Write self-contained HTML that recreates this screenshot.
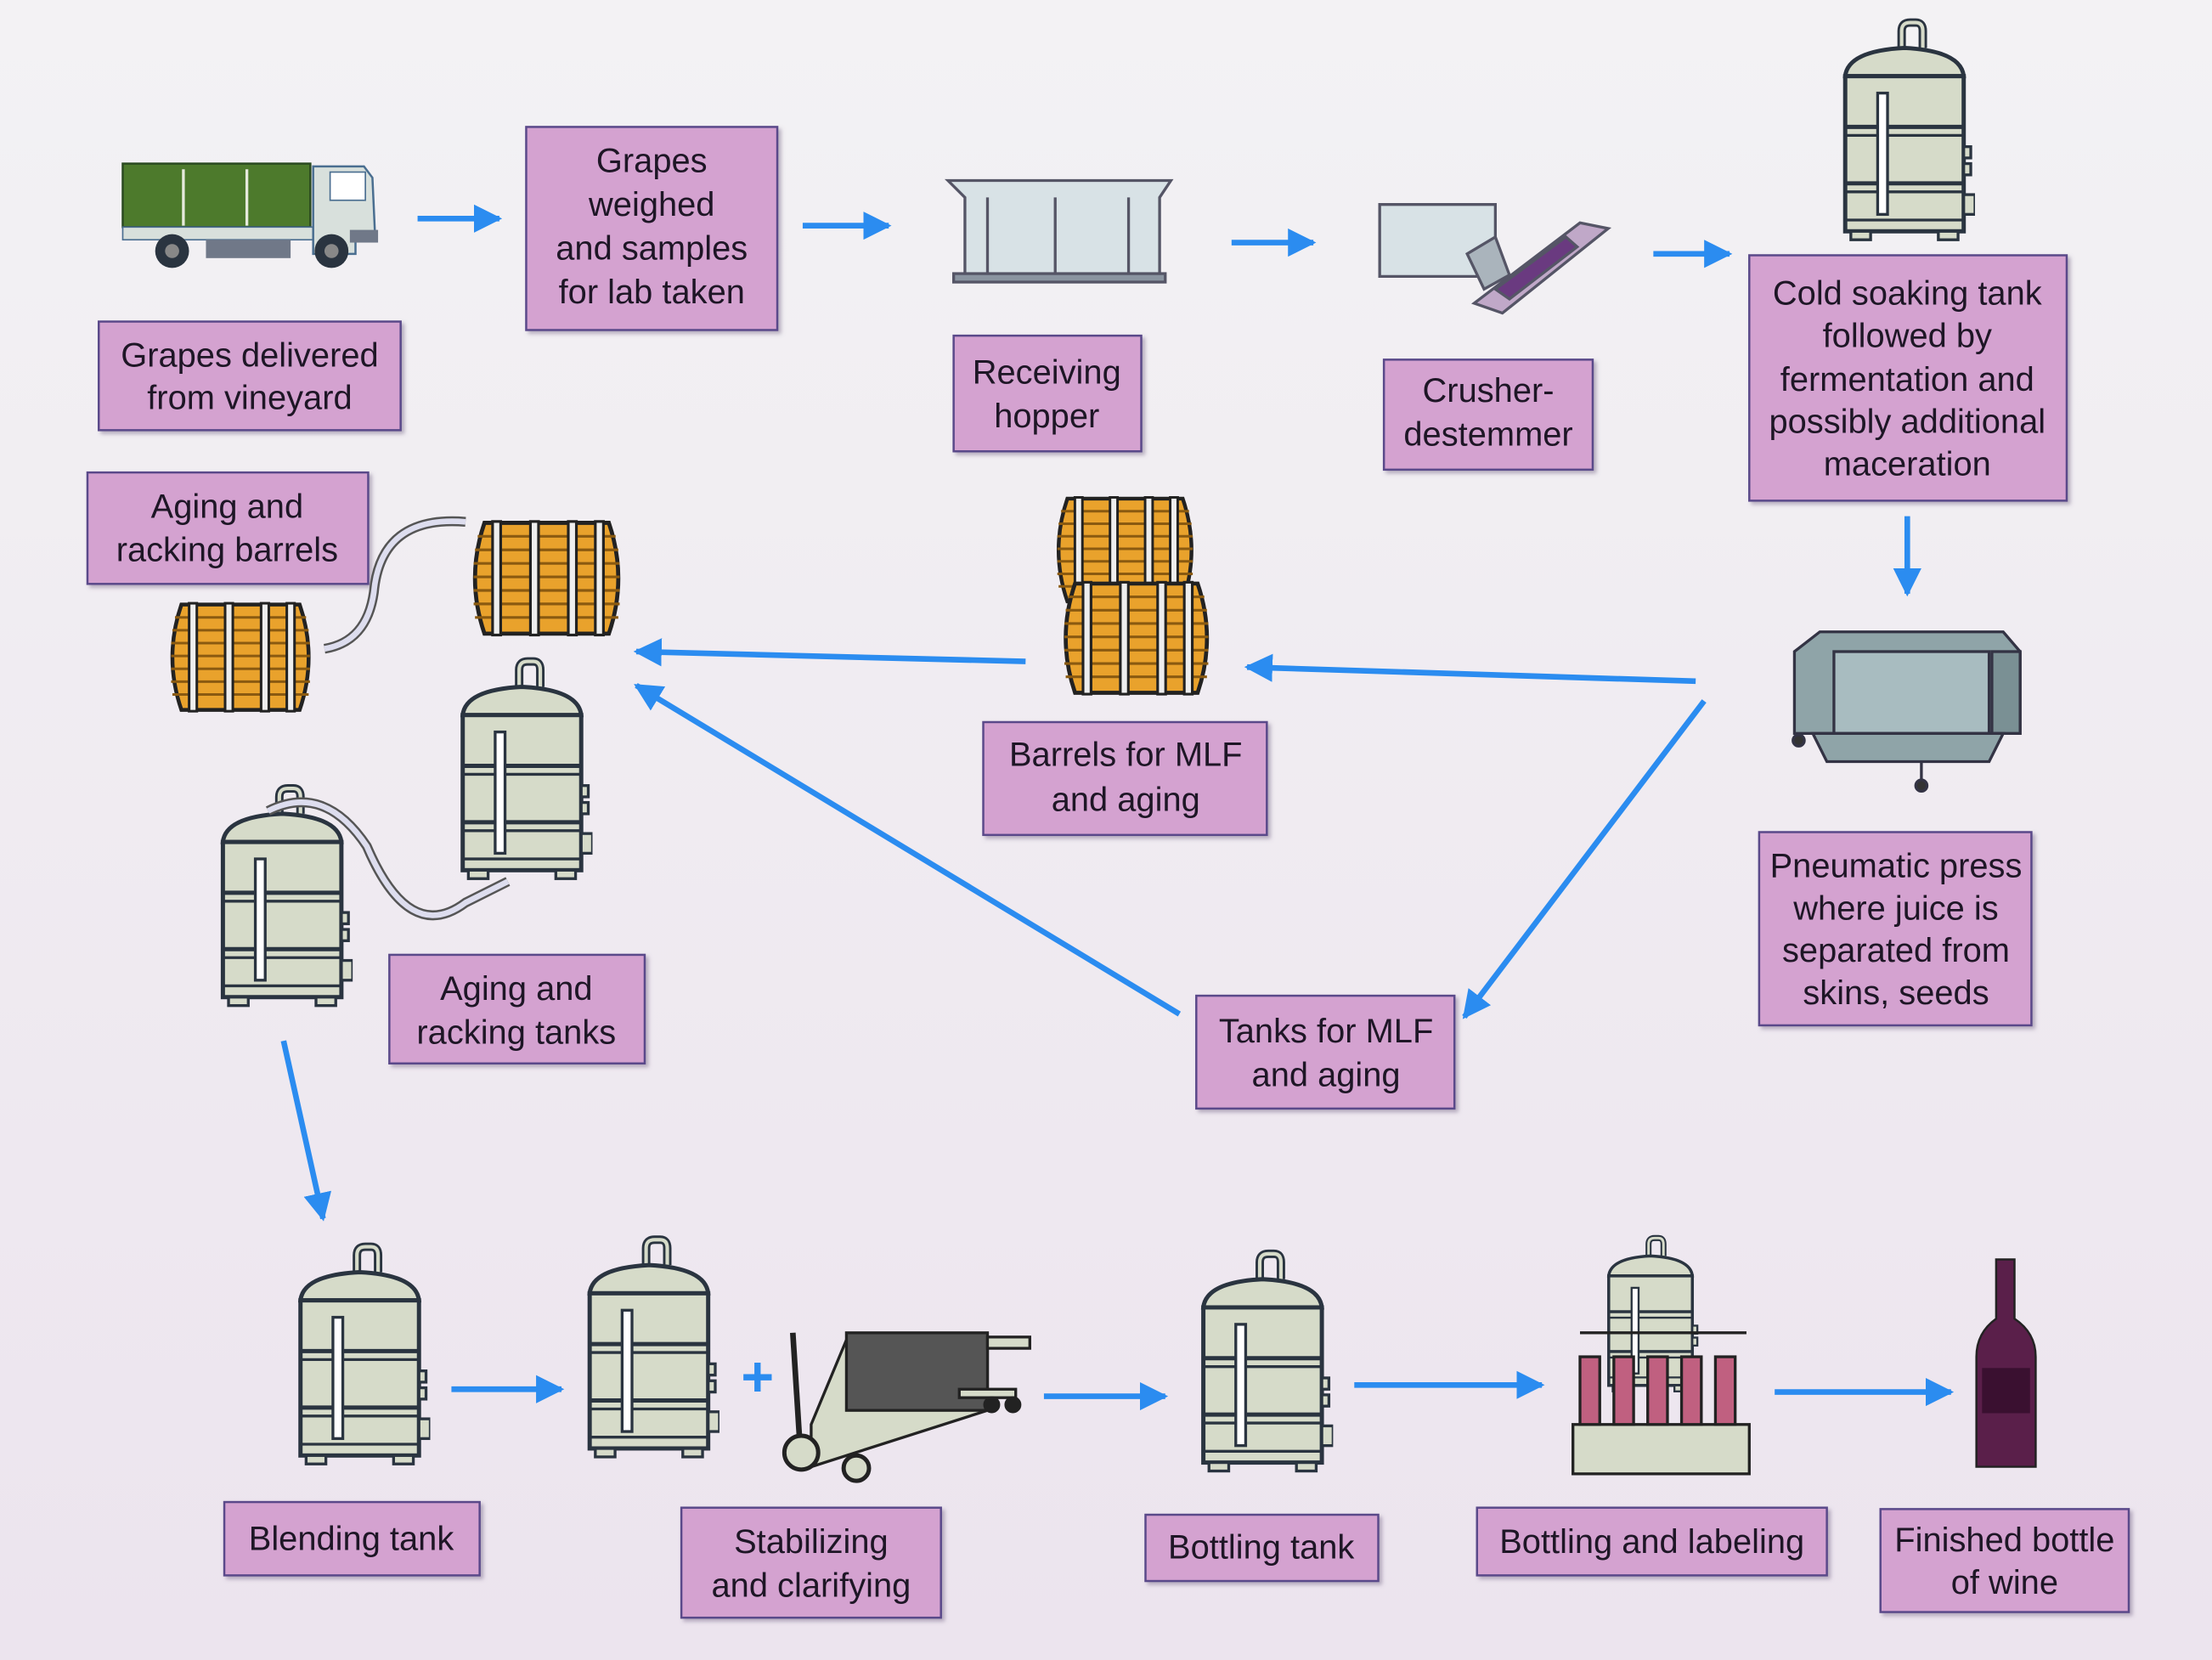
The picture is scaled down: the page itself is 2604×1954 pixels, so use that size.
<!DOCTYPE html>
<html><head><meta charset="utf-8"><style>
html,body{margin:0;padding:0;background:#efeaf1;}
svg{display:block}
text{font-family:"Liberation Sans",sans-serif;font-size:24px;fill:#1e1626;text-anchor:middle;}
</style></head><body>
<svg width="2604" height="1954" viewBox="0 0 1568 1177" preserveAspectRatio="none" xmlns="http://www.w3.org/2000/svg">
<defs>
<linearGradient id="bg" x1="0" y1="0" x2="0" y2="1"><stop offset="0" stop-color="#f3f2f4"/><stop offset="1" stop-color="#ece4ee"/></linearGradient>
<marker id="ah" viewBox="0 0 10 10" refX="9" refY="5" markerWidth="5" markerHeight="5" orient="auto"><path d="M0,0L10,5L0,10z" fill="#2b8cf0"/></marker>
<symbol id="tank" viewBox="0 0 100 170">
<path d="M48,28 V10 Q48,4 54,4 H58 Q63,4 63,10 V22" fill="none" stroke="#2a3440" stroke-width="6"/>
<path d="M48,28 V10 Q48,4 54,4 H58 Q63,4 63,10 V22" fill="none" stroke="#d6dbc9" stroke-width="2.5"/>
<path d="M8,42 Q10,24 50,22 Q90,24 92,42 Z" fill="#d6dbc9" stroke="#2a3440" stroke-width="3"/>
<rect x="8" y="42" width="84" height="110" fill="#d6dbc9" stroke="#2a3440" stroke-width="3"/>
<line x1="8" y1="78" x2="92" y2="78" stroke="#2a3440" stroke-width="3"/><line x1="8" y1="84" x2="92" y2="84" stroke="#2a3440" stroke-width="2"/>
<line x1="8" y1="118" x2="92" y2="118" stroke="#2a3440" stroke-width="3"/><line x1="8" y1="124" x2="92" y2="124" stroke="#2a3440" stroke-width="2"/>
<line x1="8" y1="144" x2="92" y2="144" stroke="#2a3440" stroke-width="2"/>
<rect x="31" y="54" width="7" height="86" fill="#fff" stroke="#2a3440" stroke-width="2"/>
<rect x="92" y="92" width="5" height="8" fill="#d6dbc9" stroke="#2a3440" stroke-width="2"/><rect x="92" y="104" width="5" height="8" fill="#d6dbc9" stroke="#2a3440" stroke-width="2"/>
<rect x="92" y="126" width="8" height="14" fill="#d6dbc9" stroke="#2a3440" stroke-width="2"/>
<rect x="12" y="152" width="14" height="6" fill="#d6dbc9" stroke="#2a3440" stroke-width="2"/><rect x="74" y="152" width="14" height="6" fill="#d6dbc9" stroke="#2a3440" stroke-width="2"/>
</symbol>
<symbol id="barrel" viewBox="0 0 120 90">
<path d="M14,4 Q0,45 14,86 H106 Q120,45 106,4 Z" fill="#e9a22c" stroke="#222" stroke-width="3"/>
<g stroke="#8a5a10" stroke-width="2">
<line x1="9" y1="14" x2="111" y2="14"/><line x1="7" y1="24" x2="113" y2="24"/><line x1="6" y1="34" x2="114" y2="34"/><line x1="6" y1="44" x2="114" y2="44"/><line x1="6" y1="54" x2="114" y2="54"/><line x1="6" y1="64" x2="114" y2="64"/><line x1="7" y1="74" x2="113" y2="74"/></g>
<g fill="#eee" stroke="#222" stroke-width="2"><rect x="20" y="3" width="6" height="84"/><rect x="48" y="3" width="6" height="84"/><rect x="76" y="3" width="6" height="84"/><rect x="96" y="3" width="6" height="84"/></g>
</symbol>
<filter id="sh"><feDropShadow dx="2" dy="2" stdDeviation="1.5" flood-color="#7a6a8a" flood-opacity="0.5"/></filter>
</defs>
<rect width="1568" height="1177" fill="url(#bg)"/>

<g fill="#d4a2d0" stroke="#5a4a8a" stroke-width="1.5" filter="url(#sh)">
<rect x="70" y="228" width="214" height="77"/>
<rect x="373" y="90" width="178" height="144"/>
<rect x="676" y="238" width="133" height="82"/>
<rect x="981" y="255" width="148" height="78"/>
<rect x="1240" y="181" width="225" height="174"/>
<rect x="62" y="335" width="199" height="79"/>
<rect x="697" y="512" width="201" height="80"/>
<rect x="1247" y="590" width="193" height="137"/>
<rect x="276" y="677" width="181" height="77"/>
<rect x="848" y="706" width="183" height="80"/>
<rect x="159" y="1065" width="181" height="52"/>
<rect x="483" y="1069" width="184" height="78"/>
<rect x="812" y="1074" width="165" height="47"/>
<rect x="1047" y="1069" width="248" height="48"/>
<rect x="1333" y="1070" width="176" height="73"/>
</g>
<g>
<text x="177" y="260">Grapes delivered</text><text x="177" y="290">from vineyard</text>
<text x="462" y="122">Grapes</text><text x="462" y="153">weighed</text><text x="462" y="184">and samples</text><text x="462" y="215">for lab taken</text>
<text x="742" y="272">Receiving</text><text x="742" y="303">hopper</text>
<text x="1055" y="285">Crusher-</text><text x="1055" y="316">destemmer</text>
<text x="1352" y="216">Cold soaking tank</text><text x="1352" y="246">followed by</text><text x="1352" y="277">fermentation and</text><text x="1352" y="307">possibly additional</text><text x="1352" y="337">maceration</text>
<text x="161" y="367">Aging and</text><text x="161" y="398">racking barrels</text>
<text x="798" y="543">Barrels for MLF</text><text x="798" y="575">and aging</text>
<text x="1344" y="622">Pneumatic press</text><text x="1344" y="652">where juice is</text><text x="1344" y="682">separated from</text><text x="1344" y="712">skins, seeds</text>
<text x="366" y="709">Aging and</text><text x="366" y="740">racking tanks</text>
<text x="940" y="739">Tanks for MLF</text><text x="940" y="770">and aging</text>
<text x="249" y="1099">Blending tank</text>
<text x="575" y="1101">Stabilizing</text><text x="575" y="1132">and clarifying</text>
<text x="894" y="1105">Bottling tank</text>
<text x="1171" y="1101">Bottling and labeling</text>
<text x="1421" y="1100">Finished bottle</text><text x="1421" y="1130">of wine</text>
</g>

<g stroke="#2b8cf0" stroke-width="4" fill="none" marker-end="url(#ah)">
<line x1="296" y1="155" x2="354" y2="155"/>
<line x1="569" y1="160" x2="630" y2="160"/>
<line x1="873" y1="172" x2="931" y2="172"/>
<line x1="1172" y1="180" x2="1226" y2="180"/>
<line x1="1352" y1="366" x2="1352" y2="421"/>
<line x1="1202" y1="483" x2="884" y2="473"/>
<line x1="727" y1="469" x2="451" y2="462"/>
<line x1="1208" y1="497" x2="1038" y2="721"/>
<line x1="836" y1="719" x2="451" y2="486"/>
<line x1="201" y1="738" x2="229" y2="864"/>
<line x1="320" y1="985" x2="398" y2="985"/>
<line x1="740" y1="990" x2="826" y2="990"/>
<line x1="960" y1="982" x2="1093" y2="982"/>
<line x1="1258" y1="987" x2="1383" y2="987"/>
</g>
<text x="537" y="990" style="font-size:40px;fill:#2b8cf0;font-weight:bold">+</text>

<!-- truck -->
<g>
<rect x="87" y="116" width="133" height="45" fill="#4d7a2c" stroke="#2a4a20" stroke-width="1.5"/>
<line x1="130" y1="120" x2="130" y2="160" stroke="#e6eadc" stroke-width="2"/><line x1="175" y1="120" x2="175" y2="160" stroke="#e6eadc" stroke-width="2"/>
<rect x="87" y="161" width="135" height="9" fill="#d8e0dc" stroke="#4a6e90" stroke-width="1"/>
<path d="M222,118 H258 L264,126 L266,170 H252 V180 H222 Z" fill="#d8e0dc" stroke="#4a6e90" stroke-width="1.5"/>
<rect x="234" y="122" width="25" height="20" fill="#fff" stroke="#4a6e90" stroke-width="1"/>
<rect x="248" y="163" width="20" height="9" fill="#707888"/>
<rect x="146" y="170" width="60" height="13" fill="#707888"/>
<circle cx="122" cy="178" r="12" fill="#2a3440"/><circle cx="122" cy="178" r="5" fill="#888"/>
<circle cx="235" cy="178" r="12" fill="#2a3440"/><circle cx="235" cy="178" r="5" fill="#888"/>
</g>
<!-- hopper -->
<g stroke="#556" stroke-width="2" fill="#d8e2e6">
<path d="M672,128 H830 L822,140 V196 H684 V140 Z"/>
<line x1="700" y1="140" x2="700" y2="196"/><line x1="748" y1="140" x2="748" y2="196"/><line x1="800" y1="140" x2="800" y2="196"/>
<rect x="676" y="194" width="150" height="6" fill="#8a94a0"/>
</g>
<!-- crusher -->
<g stroke="#556" stroke-width="2">
<path d="M978,145 H1060 V196 H978 Z" fill="#d8e2e6"/>
<path d="M1040,180 L1060,168 L1070,195 L1052,205 Z" fill="#aab4bc"/>
<path d="M1045,215 L1120,158 L1140,162 L1065,222 Z" fill="#c0a8c8"/>
<path d="M1060,205 L1110,168 L1118,175 L1070,212 Z" fill="#6a3a80"/>
</g>
<!-- tanks -->
<use href="#tank" x="1300" y="12" width="100" height="170"/>
<use href="#tank" x="320" y="465" width="100" height="170"/>
<use href="#tank" x="150" y="555" width="100" height="170"/>
<use href="#tank" x="205" y="880" width="100" height="170"/>
<use href="#tank" x="410" y="875" width="100" height="170"/>
<use href="#tank" x="845" y="885" width="100" height="170"/>
<path d="M230,460 Q260,455 265,420 Q270,365 330,370" fill="none" stroke="#555" stroke-width="7"/>
<path d="M230,460 Q260,455 265,420 Q270,365 330,370" fill="none" stroke="#dde" stroke-width="4"/>
<path d="M190,575 Q230,555 260,600 Q290,670 330,640 L360,625" fill="none" stroke="#555" stroke-width="7"/>
<path d="M190,575 Q230,555 260,600 Q290,670 330,640 L360,625" fill="none" stroke="#dde" stroke-width="4"/>
<!-- barrels -->
<use href="#barrel" x="330" y="365" width="115" height="90"/>
<use href="#barrel" x="113" y="425" width="115" height="82"/>
<use href="#barrel" x="740" y="350" width="115" height="80"/>
<use href="#barrel" x="748" y="410" width="115" height="85"/>
<!-- press -->
<g stroke="#334" stroke-width="2">
<path d="M1272,462 L1290,448 H1420 L1432,462 V520 H1272 Z" fill="#8fa4a8"/>
<rect x="1300" y="462" width="110" height="58" fill="#a8bcc0"/>
<rect x="1412" y="462" width="20" height="58" fill="#7a9094"/>
<path d="M1285,520 H1420 L1410,540 H1295 Z" fill="#8fa4a8"/>
<line x1="1362" y1="540" x2="1362" y2="555"/><circle cx="1362" cy="557" r="4" fill="#333"/>
<circle cx="1275" cy="525" r="4" fill="#333"/>
</g>
<!-- filter -->
<g stroke="#222" stroke-width="2">
<path d="M575,1010 L600,950 H700 V1000 L575,1040 Z" fill="#d6dbc9"/>
<rect x="600" y="945" width="100" height="55" fill="#555"/>
<line x1="562" y1="945" x2="568" y2="1040" stroke-width="4"/>
<circle cx="568" cy="1030" r="12" fill="#d6dbc9" stroke-width="3"/>
<circle cx="607" cy="1041" r="9" fill="#d6dbc9" stroke-width="3"/>
<rect x="700" y="948" width="30" height="8" fill="#d6dbc9"/>
<rect x="680" y="985" width="40" height="6" fill="#d6dbc9"/>
<circle cx="703" cy="996" r="5" fill="#222"/><circle cx="718" cy="996" r="5" fill="#222"/>
</g>
<!-- bottling machine -->
<use href="#tank" x="1125" y="875" width="90" height="120"/>
<g stroke="#222" stroke-width="2">
<line x1="1120" y1="945" x2="1238" y2="945"/>
<rect x="1115" y="1010" width="125" height="35" fill="#d6dbc9"/>
<g fill="#c06080"><rect x="1120" y="962" width="14" height="48"/><rect x="1144" y="962" width="14" height="48"/><rect x="1168" y="962" width="14" height="48"/><rect x="1192" y="962" width="14" height="48"/><rect x="1216" y="962" width="14" height="48"/></g>
</g>
<!-- bottle -->
<path d="M1415,893 H1428 V935 Q1443,945 1443,962 V1040 H1401 V962 Q1401,945 1415,935 Z" fill="#5a1f4a" stroke="#222" stroke-width="1.5"/>
<rect x="1405" y="970" width="34" height="32" fill="#3a1030"/>
</svg>
</body></html>
